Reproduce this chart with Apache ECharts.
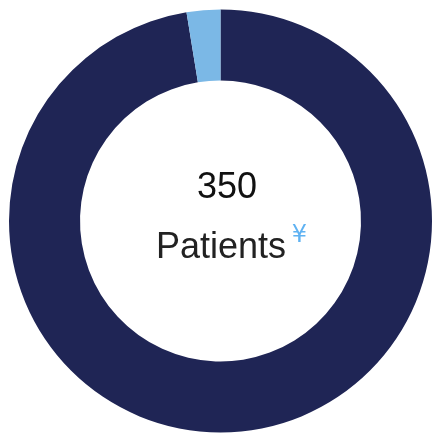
<!DOCTYPE html>
<html>
<head>
<meta charset="utf-8">
<script src="https://cdn.jsdelivr.net/npm/echarts@6/dist/echarts.min.js"></script>
<style>
html,body{margin:0;padding:0;background:#fff;}
#chart{width:433px;height:433px;}
</style>
</head>
<body>
<div id="chart"></div>
<script>
var categories = ['Patients', 'Other'];
var values = [341, 9];
var totalLabel = '350';
var unitLabel = 'Patients';
var markLabel = '¥';
var colors = ['#1f2555', '#7bb8e6'];

var chart = echarts.init(document.getElementById('chart'), null, {renderer: 'canvas'});
chart.setOption({
  animation: false,
  series: [{
    type: 'pie',
    center: [220.5, 221],
    radius: [140.5, 211.5],
    startAngle: 90,
    clockwise: true,
    silent: true,
    label: {show: false},
    labelLine: {show: false},
    data: categories.map(function (c, i) {
      return {name: c, value: values[i], itemStyle: {color: colors[i]}};
    })
  }],
  graphic: [
    {type: 'text', style: {text: totalLabel, x: 227, y: 188, align: 'center', verticalAlign: 'middle',
       font: '36px "Liberation Sans", Arial, sans-serif', fill: '#111'}},
    {type: 'text', style: {text: unitLabel, x: 221, y: 248, align: 'center', verticalAlign: 'middle',
       font: '36px "Liberation Sans", Arial, sans-serif', fill: '#222'}},
    {type: 'text', style: {text: markLabel, x: 299.5, y: 236, align: 'center', verticalAlign: 'middle',
       font: '24px "DejaVu Sans", sans-serif', fill: '#5fb2f2'}}
  ]
});
</script>
</body>
</html>
